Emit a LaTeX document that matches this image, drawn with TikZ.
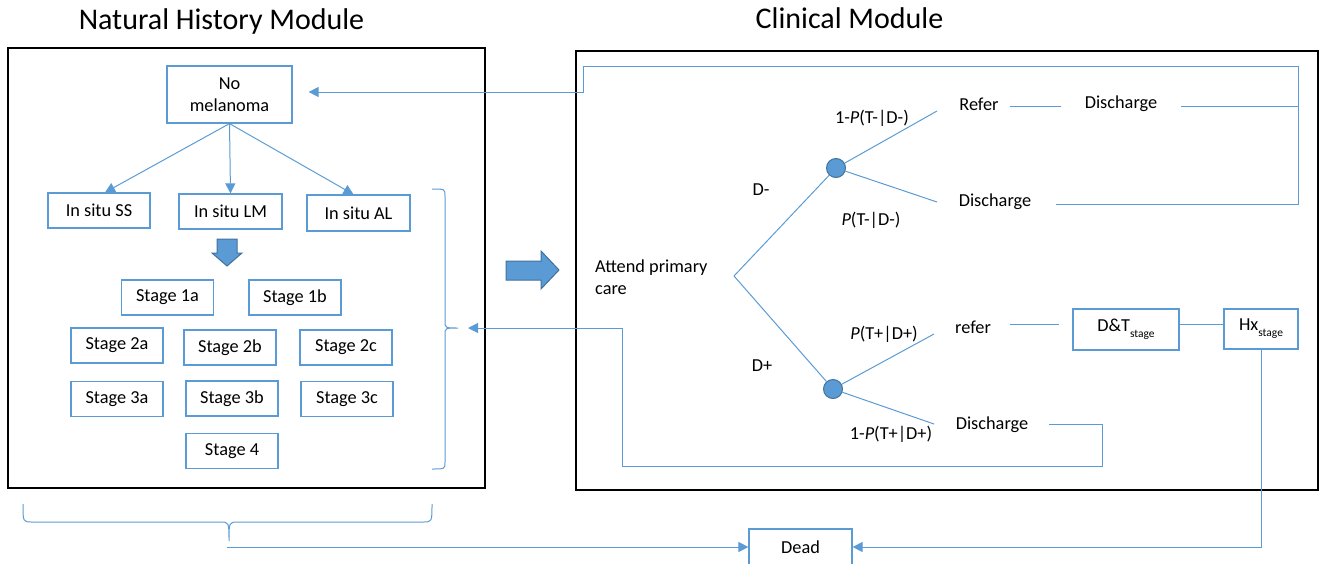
\documentclass[tikz,border=0pt]{standalone}
\usepackage{fontspec}
\setmainfont{Carlito}
\usetikzlibrary{positioning,arrows.meta}

\definecolor{officeblue}{HTML}{5B9BD5}
\definecolor{officeedge}{HTML}{41719C}
\newcommand{\stagesub}{\raisebox{-6pt}{\fontsize{11.5}{12}\selectfont stage}}

\begin{document}
\begin{tikzpicture}[x=1pt,y=-1pt,
  every node/.style={font=\fontsize{18.3}{22}\selectfont},
  stagenode/.style={draw=officeblue, line width=1.2pt, minimum width=92pt, minimum height=35pt, inner sep=0pt},
  chancenode/.style={circle, fill=officeblue, draw=officeedge, line width=1pt, minimum size=19pt, inner sep=0pt},
  plainnode/.style={inner sep=0pt},
  titlenode/.style={inner sep=0pt, anchor=base, font=\fontsize{30}{36}\selectfont},
  linkline/.style={officeblue, line width=1pt},
  arrowline/.style={linkline, -{Triangle[length=10pt,width=10pt]}},
  modulebox/.style={black, line width=2pt},
  blockarrow/.style={fill=officeblue, draw=officeedge, line width=1pt}]

\useasboundingbox (0,0) rectangle (1320,563);

%Modules
\node[titlenode] (nhmtitle) at (221.5,29) {Natural History Module};
\node[titlenode] (clintitle) at (849.5,28) {Clinical Module};
\draw[modulebox] (8,48) rectangle (485,488);
\draw[modulebox] (576,50.5) rectangle (1318,490);

%Natural history nodes
\node[stagenode, minimum width=125pt, minimum height=57pt, align=center] (nomel) at (229.5,94.5) {No\\melanoma};
\node[stagenode, minimum width=102pt] (situSS) at (99,210.5) {In situ SS};
\node[stagenode, minimum width=103pt] (situLM) at (230.5,211.5) {In situ LM};
\node[stagenode, minimum width=103pt, minimum height=36pt] (situAL) at (358.5,213) {In situ AL};

\node[stagenode] (stage1a) at (167.5,297.5) {Stage 1a};
\node[stagenode] (stage1b) at (295,297.5) {Stage 1b};
\node[stagenode] (stage2a) at (117,345.5) {Stage 2a};
\node[stagenode] (stage2b) at (230,347.5) {Stage 2b};
\node[stagenode] (stage2c) at (346,347.5) {Stage 2c};
\node[stagenode] (stage3a) at (117,399) {Stage 3a};
\node[stagenode] (stage3b) at (232,398.5) {Stage 3b};
\node[stagenode] (stage3c) at (347,399) {Stage 3c};
\node[stagenode] (stage4) [below=16pt of stage3b] {Stage 4};

\draw[arrowline] (nomel.south) -- ([xshift=6pt]situSS.north);
\draw[arrowline] (nomel.south) -- (situLM.north);
\draw[arrowline] (nomel.south) -- ([xshift=-5pt]situAL.north);

\draw[blockarrow] (217,239) -- (237,239) -- (237,253) -- (242,253) -- (227,266) -- (212,253) -- (217,253) -- cycle;

%braces round the stages
\draw[linkline] (432,189) .. controls (445,189) .. (445,196) -- (445,321)
  .. controls (445,328) .. (458,328) .. controls (445,328) .. (445,335)
  -- (445,462) .. controls (445,469) .. (432,469);
\draw[linkline] (23,504) .. controls (23,522) .. (32,522) -- (220,522)
  .. controls (229,522) .. (229,541) .. controls (229,522) .. (238,522)
  -- (423,522) .. controls (432,522) .. (432,504);
\coordinate (stageset) at (468,328);
\coordinate (nhmout) at (227,547);

\draw[blockarrow] (506,261) -- (541,261) -- (541,251) -- (559,270) -- (541,289) -- (541,280) -- (506,280) -- cycle;

%Clinical tree
\node[plainnode, anchor=west, align=left, font=\fontsize{18.3}{21.5}\selectfont] (attend) at (595,277) {Attend primary\\care};
\coordinate (fork) at (734,276);
\node[chancenode] (cminus) at (836,168) {};
\node[chancenode] (cplus) at (833,389) {};

\node[plainnode] (dminus) at (761,190) {D-};
\node[plainnode] (dplus) at (762,366) {D+};
\node[plainnode] (ptdm1) at (872,118) {1-\emph{P}(T-|D-)};
\node[plainnode] (ptdm) at (871,220) {\emph{P}(T-|D-)};
\node[plainnode] (ptdp) at (884,334) {\emph{P}(T+|D+)};
\node[plainnode] (ptdp1) at (891,434) {1-\emph{P}(T+|D+)};

\node[plainnode] (refer1) at (979,104) {Refer};
\node[plainnode] (dis1) at (1121,104) {Discharge};
\node[plainnode] (dis2) at (995,202) {Discharge};
\node[plainnode] (refer2) at (973,327) {refer};
\node[plainnode] (dis3) at (992,425) {Discharge};

\node[stagenode, minimum width=106pt, minimum height=41pt] (dt) at (1126,329.5) {D\&T\stagesub};
\node[stagenode, minimum width=74pt, minimum height=40pt] (hx) at (1261,329) {Hx\stagesub};
\node[stagenode, minimum width=103pt, minimum height=36pt] (dead) at (800.5,547) {Dead};

\coordinate (tip1) at (937,111);
\coordinate (tip2) at (937,202);
\coordinate (tip3) at (934,334);
\coordinate (tip4) at (934,424);

%tree lines
\draw[linkline] (fork) -- (cminus);
\draw[linkline] (fork) -- (cplus);
\draw[linkline] (cminus) -- (tip1);
\draw[linkline] (cminus) -- (tip2);
\draw[linkline] (cplus) -- (tip3);
\draw[linkline] (cplus) -- (tip4);

\draw[linkline] ([xshift=11pt,yshift=-2pt]refer1.east) -- ([xshift=-24pt,yshift=-2pt]dis1.west);
\draw[linkline] ([xshift=19pt,yshift=3pt]refer2.east) -- ([xshift=-13pt,yshift=5.5pt]dt.west);
\draw[linkline] ([yshift=5.5pt]dt.east) -- ([yshift=5pt]hx.west);

%loops back to the natural history module
\coordinate (loopR) at (1298,66);
\coordinate (loopL) at (583,66);
\draw[linkline] ([xshift=24pt,yshift=-2pt]dis1.east) -| (loopR);
\draw[linkline] ([xshift=25pt,yshift=-2pt]dis2.east) -| (loopR);
\draw[arrowline, shorten >=16pt] (loopR) -- (loopL) |- ([yshift=2.5pt]nomel.east);

\coordinate (retR) at (1102,466);
\coordinate (retL) at (622,466);
\draw[arrowline] ([xshift=21pt,yshift=1pt]dis3.east) -| (retR) -- (retL) |- (stageset);

%death
\draw[arrowline] (hx.south) |- (dead.east);
\draw[arrowline] (nhmout) -- (dead.west);

\end{tikzpicture}
\end{document}
